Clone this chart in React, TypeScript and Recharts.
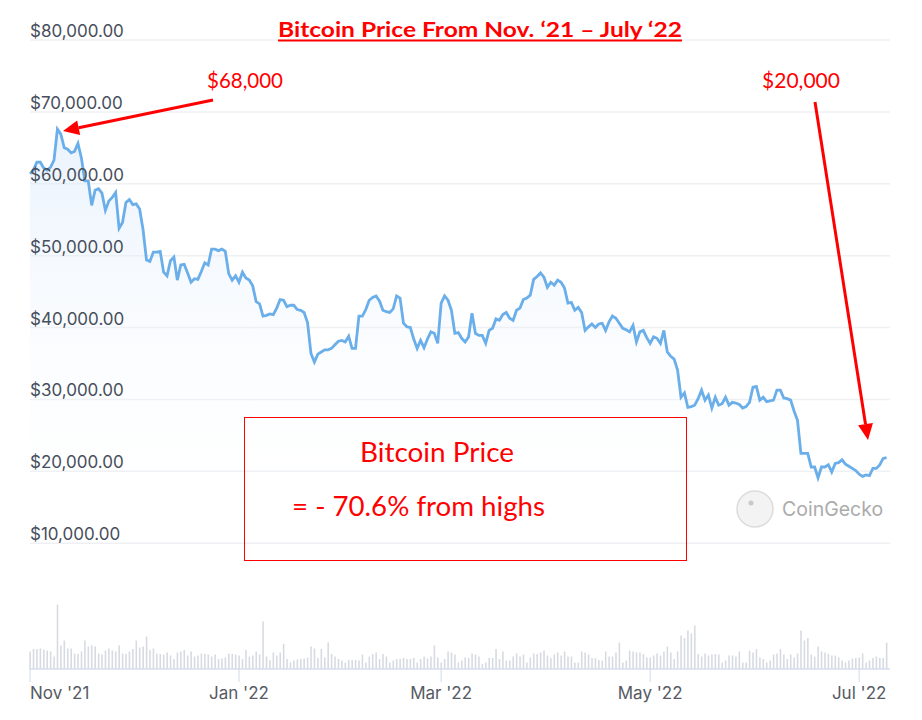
import { ComposedChart, Area, Bar, XAxis, YAxis, CartesianGrid } from "recharts";

// daily prices (USD), Nov 1 2021 -> Jul 9 2022
const novPrices = [61400, 61900, 63000, 63000, 62200, 61900, 62300, 63300, 67600, 66900, 65000, 64800, 64300, 64500, 65600, 63600, 60400, 60400, 57000, 59100, 59300, 58700, 56300, 57600, 58100, 58800, 53800, 54600, 57400, 57800];
const decPrices = [57100, 57200, 56500, 53600, 49400, 49200, 50500, 50500, 50600, 47700, 47200, 49300, 49800, 46600, 48700, 48800, 47600, 46300, 46800, 46700, 47800, 49000, 48700, 50900, 50900, 50700, 50900, 50600, 47500, 46600, 47200];
const janPrices = [46300, 47700, 46900, 46600, 45800, 43600, 43300, 41600, 41700, 41900, 41800, 42700, 43900, 43800, 42900, 43100, 43100, 42500, 42400, 42100, 40700, 36400, 35200, 36300, 36600, 36900, 36900, 37100, 37600, 38100, 38200];
const febPrices = [38000, 38800, 37100, 37100, 41600, 41600, 42500, 43800, 44200, 44400, 43700, 42400, 42200, 42100, 42600, 44400, 44100, 40600, 40100, 40000, 38400, 37100, 38200, 37200, 38400, 39400, 39200, 37800];
const marPrices = [43400, 44400, 43800, 42400, 39200, 39300, 38500, 38000, 38700, 42000, 39200, 38900, 38900, 37800, 39600, 39900, 41200, 41000, 41800, 42100, 41300, 41000, 42400, 42700, 43900, 44100, 44500, 46700, 47100, 47600, 47000];
const aprPrices = [45600, 46300, 45900, 46600, 46300, 45500, 43400, 43500, 42400, 42800, 42100, 39600, 40100, 40500, 40000, 40500, 40600, 39600, 40800, 41600, 41300, 40600, 39900, 39700, 39400, 40300, 38000, 39400, 39600, 38600];
const mayPrices = [37800, 38700, 38500, 37800, 39600, 36600, 36000, 35600, 34100, 30300, 30900, 28900, 29000, 29200, 30100, 31300, 29900, 30600, 28800, 30300, 29200, 29400, 30300, 29200, 29600, 29500, 29300, 28800, 29000, 29600, 31700];
const junPrices = [31800, 29900, 30300, 29700, 29800, 29900, 31300, 31300, 30200, 30100, 29900, 28400, 27100, 22500, 22500, 22500, 20600, 20600, 19100, 20600, 20600, 20900, 19900, 21100, 21200, 21600, 21000, 20700, 20400, 20100];
const julPrices = [19600, 19300, 19500, 19400, 20400, 20400, 20900, 21800, 21900];

// daily volume ($B), same days
const volumes2021 = [
  35, 40, 40, 41, 39, 37, 35, 25, 129, 47, 57, 41, 41, 31, 30, 35, 57, 45, 47, 45,
  31, 29, 37, 41, 37, 35, 47, 31, 30, 35, 40, 57, 43, 45, 65, 38, 41, 31, 30, 29,
  33, 27, 20, 33, 35, 38, 27, 35, 25, 27, 31, 30, 29, 25, 29, 20, 21, 23, 31, 30, 29,
];
const volumes2022 = [
  27, 20, 38, 25, 27, 35, 29, 95, 25, 18, 33, 27, 33, 50, 20, 13, 17, 19, 20,
  21, 23, 45, 41, 22, 40, 23, 53, 30, 25, 20, 17, 13, 18, 18, 18, 17, 29, 13, 25,
  30, 33, 20, 30, 25, 13, 17, 20, 20, 22, 20, 20, 22, 13, 20, 25, 21, 25, 47, 23,
  13, 20, 35, 33, 29,
  13, 17, 23, 22, 31, 29, 25, 10, 13, 22, 22, 40, 20, 35, 17, 17, 25, 31, 25, 29, 13, 23, 31, 30,
  33, 37, 27, 22, 29, 33, 27, 35, 25, 25, 13, 13, 35, 33, 29, 22, 22, 18, 17, 35,
  25, 25, 33, 53, 13, 17, 37, 35, 33, 33, 30, 23, 23, 27, 31, 27, 35, 45, 33, 20,
  35, 67, 62, 77, 71, 87, 30, 25, 31, 27, 29, 30, 29, 13, 17, 27, 27, 25, 35,
  13, 13, 37, 33, 40, 23, 20, 13, 17, 29, 31, 40, 29, 20, 29, 23, 31, 77, 57, 62,
  29, 25, 45, 35, 33, 30, 27, 27, 23, 17, 13, 17, 21, 22, 23, 31, 13, 17, 22, 25, 22, 22, 53,
];

const monthTicks = [0, 61, 120, 181, 242];
const monthLabels = ["Nov '21", "Jan '22", "Mar '22", "May '22", "Jul '22"];
const priceTicks = [10000, 20000, 30000, 40000, 50000, 60000, 70000, 80000];

const prices = [...novPrices, ...decPrices, ...janPrices, ...febPrices, ...marPrices, ...aprPrices, ...mayPrices, ...junPrices, ...julPrices];
const volumes = [...volumes2021, ...volumes2022];
const data = prices.map((p, i) => ({ day: i, price: p, volume: volumes[i] }));

const W = 922;
const H = 720;
const LEFT = 30;
const RED = "#ff0000";
const ANNO_FONT = "Lato, 'Open Sans', sans-serif";

const fmtPrice = (v: number) =>
  "$" + v.toLocaleString("en-US", { minimumFractionDigits: 2, maximumFractionDigits: 2 });

const PriceTick = (props: any) => {
  const { y, payload } = props;
  return (
    <text x={LEFT} y={y - 3} fill="#474e5c" fontSize={17} fontFamily="Inter, sans-serif" textAnchor="start">
      {fmtPrice(payload.value)}
    </text>
  );
};

const MonthTick = (props: any) => {
  const { x, y, payload, index } = props;
  const i = monthTicks.indexOf(payload.value);
  return (
    <text
      x={x}
      y={y + 15}
      fill="#555a63"
      fontSize={17}
      fontFamily="Inter, sans-serif"
      textAnchor={index === 0 ? "start" : "middle"}
    >
      {monthLabels[i]}
    </text>
  );
};

const Arrow = ({ x1, y1, x2, y2 }: { x1: number; y1: number; x2: number; y2: number }) => {
  const a = Math.atan2(y2 - y1, x2 - x1);
  const len = 16;
  const half = 7.5;
  const bx = x2 - len * Math.cos(a);
  const by = y2 - len * Math.sin(a);
  const px = -Math.sin(a) * half;
  const py = Math.cos(a) * half;
  return (
    <g>
      <line x1={x1} y1={y1} x2={bx} y2={by} stroke={RED} strokeWidth={3} />
      <polygon points={`${x2},${y2} ${bx + px},${by + py} ${bx - px},${by - py}`} fill={RED} />
    </g>
  );
};

export default function App() {
  return (
    <div style={{ position: "absolute", left: 0, top: 0, width: W, height: H, background: "#fff" }}>
      <ComposedChart width={W} height={H} data={data} margin={{ top: 40, right: 32, bottom: 11, left: 0 }}>
        <defs>
          <linearGradient id="priceFill" x1="0" y1="0" x2="0" y2="1">
            <stop offset="0%" stopColor="#d8e8fb" stopOpacity={0.9} />
            <stop offset="85%" stopColor="#ffffff" stopOpacity={0} />
          </linearGradient>
        </defs>
        <CartesianGrid yAxisId="price" vertical={false} stroke="#eef0f4" strokeWidth={1.5} />
        <XAxis
          dataKey="day"
          type="number"
          domain={[0, 251]}
          ticks={monthTicks}
          tick={<MonthTick />}
          tickSize={13}
          height={40}
          stroke="#cfdaee"
          tickLine={{ stroke: "#cfdaee" }}
          interval={0}
        />
        <YAxis
          yAxisId="price"
          type="number"
          domain={[-7500, 80000]}
          ticks={priceTicks}
          allowDataOverflow
          width={LEFT}
          axisLine={false}
          tickLine={false}
          tick={<PriceTick />}
          interval={0}
        />
        <YAxis yAxisId="vol" type="number" domain={[0, 1258]} hide />
        <Bar yAxisId="vol" dataKey="volume" fill="#d7dbe1" barSize={1.6} isAnimationActive={false} />
        <Area
          yAxisId="price"
          type="linear"
          dataKey="price"
          stroke="#6aaeea"
          strokeWidth={2.8}
          fill="url(#priceFill)"
          baseValue={0}
          dot={false}
          activeDot={false}
          isAnimationActive={false}
        />
      </ComposedChart>

      <svg width={W} height={H} style={{ position: "absolute", left: 0, top: 0, pointerEvents: "none" }}>
        <text
          x={480}
          y={37}
          textAnchor="middle"
          fill={RED}
          fontSize={21}
          fontWeight="bold"
          fontFamily={ANNO_FONT}
          textLength={404}
          lengthAdjust="spacingAndGlyphs"
        >
          Bitcoin Price From Nov. ‘21 – July ‘22
        </text>
        <line x1={278} x2={682} y1={40.5} y2={40.5} stroke={RED} strokeWidth={2} />

        <text x={207} y={88} fill={RED} fontSize={22} fontFamily={ANNO_FONT} textLength={76} lengthAdjust="spacingAndGlyphs">
          $68,000
        </text>
        <Arrow x1={213} y1={100} x2={63} y2={131} />

        <text x={762} y={88} fill={RED} fontSize={22} fontFamily={ANNO_FONT} textLength={78} lengthAdjust="spacingAndGlyphs">
          $20,000
        </text>
        <Arrow x1={815} y1={102} x2={868} y2={440} />

        <rect x={244.5} y={417.5} width={442} height={143} fill="none" stroke={RED} strokeWidth={1} />
        <text x={437} y={462} textAnchor="middle" fill={RED} fontSize={27} fontFamily={ANNO_FONT} textLength={154} lengthAdjust="spacingAndGlyphs">
          Bitcoin Price
        </text>
        <text x={292} y={516} fill={RED} fontSize={27} fontFamily={ANNO_FONT} textLength={253} lengthAdjust="spacingAndGlyphs">
          = - 70.6% from highs
        </text>

        <g opacity={0.9}>
          <circle cx={755} cy={509} r={18} fill="#f2f2f2" stroke="#d9d9d9" strokeWidth={1.5} />
          <circle cx={751} cy={503} r={2.5} fill="#c4c4c4" />
          <text x={782} y={516} fill="#a3a3a3" fontSize={19.5} fontFamily="Inter, sans-serif">
            CoinGecko
          </text>
        </g>
      </svg>
    </div>
  );
}
